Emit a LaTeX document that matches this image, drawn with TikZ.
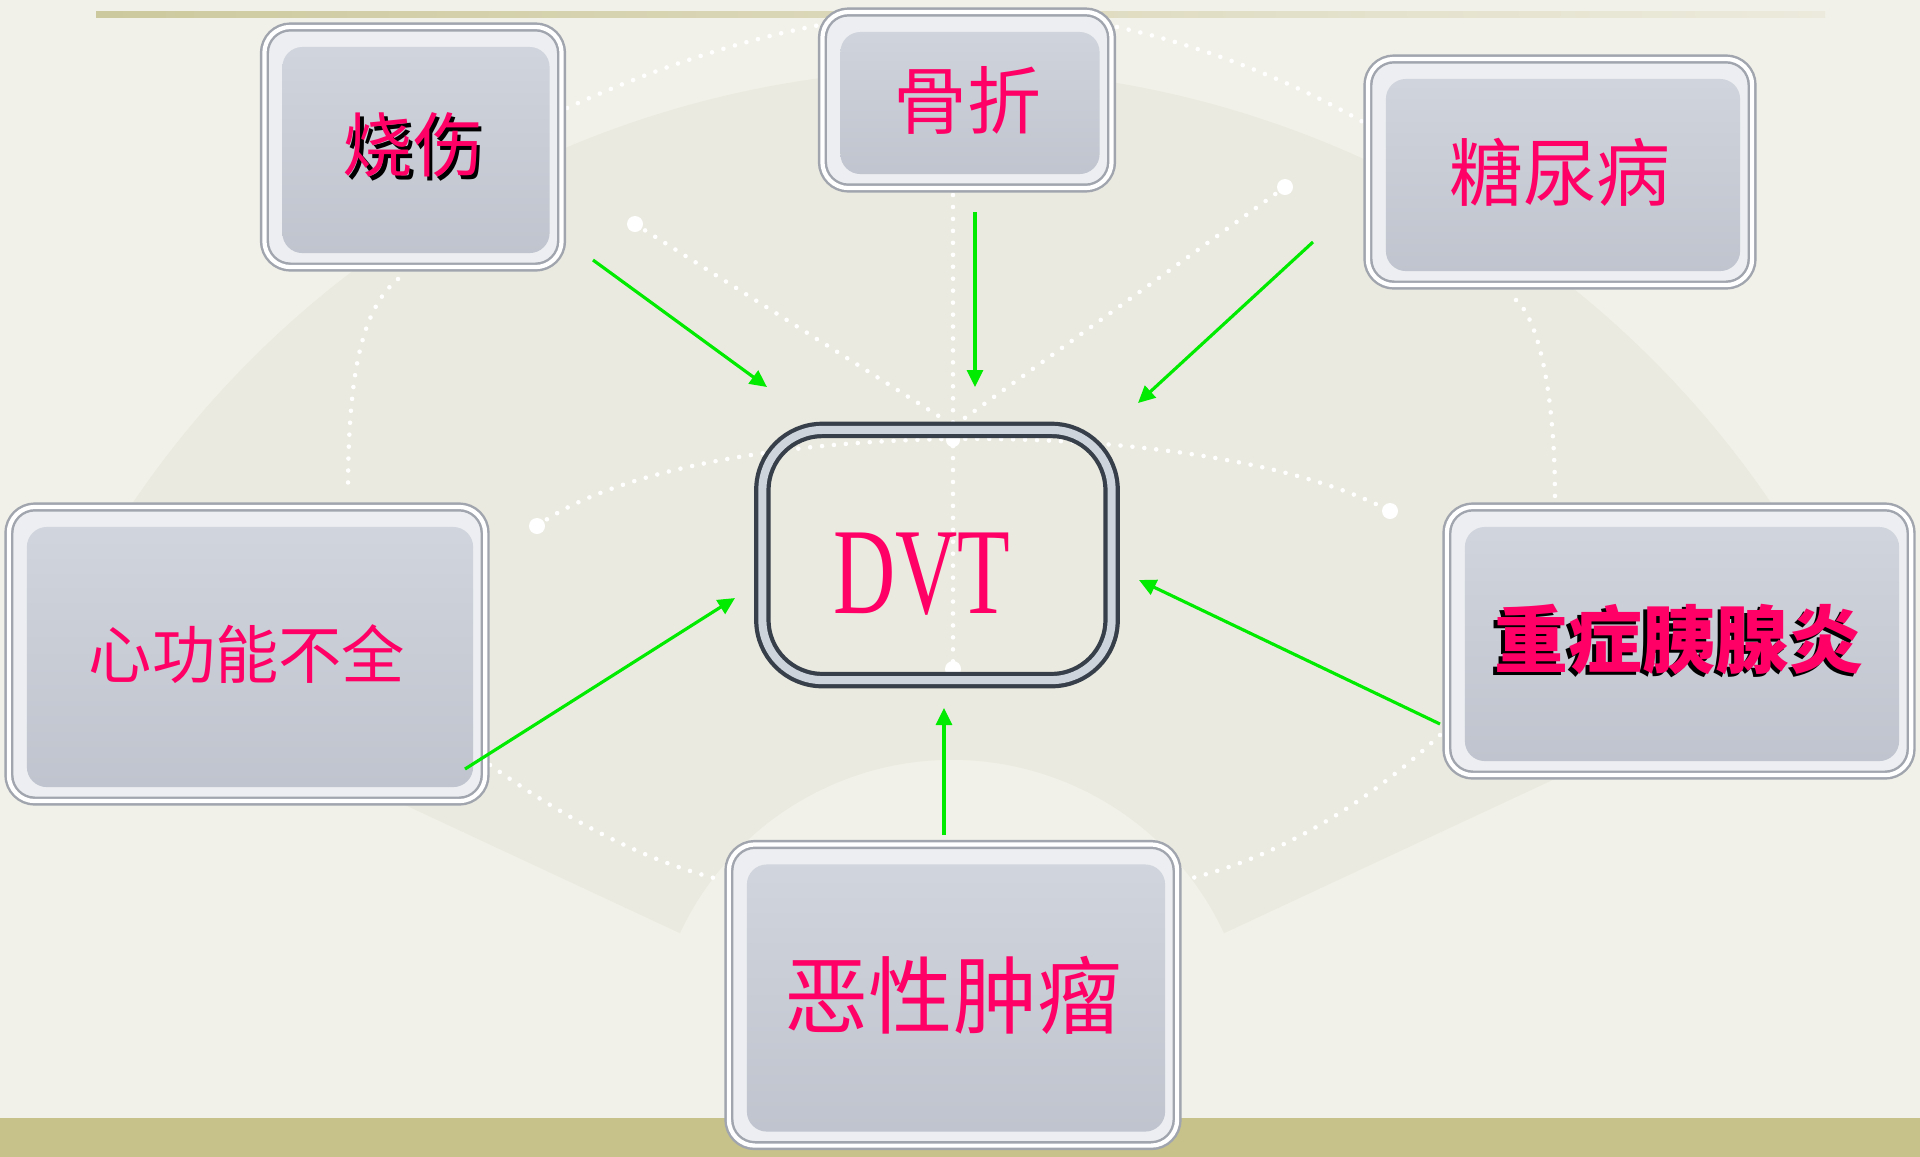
\documentclass[tikz,border=0pt]{standalone}
\usepackage{fontspec}
\newfontfamily\cjk{Noto Sans CJK SC}
\newfontfamily\dvtfont[FakeStretch=0.7]{Liberation Serif}
\usetikzlibrary{arrows.meta}

\definecolor{paper}{RGB}{242,241,233}
\definecolor{fangrey}{RGB}{235,234,224}
\definecolor{topolive}{RGB}{205,201,158}
\definecolor{bandolive}{RGB}{199,194,138}
\definecolor{olivelight}{RGB}{236,234,220}
\definecolor{rose}{RGB}{255,0,102}
\definecolor{arrowgreen}{RGB}{0,235,0}
\definecolor{glassrim}{RGB}{160,165,174}
\definecolor{glassedge}{RGB}{236,238,241}
\definecolor{glasstop}{RGB}{210,214,222}
\definecolor{glassbot}{RGB}{190,195,205}
\definecolor{ringdark}{RGB}{55,63,74}
\definecolor{ringlight}{RGB}{205,212,220}

% текст с тенью
\newcommand{\shadowed}[2]{\rlap{\hspace{#1}\raisebox{-0.035cm}{\textcolor{black}{#2}}}#2}

\tikzset{
	glass/.style={rounded corners=0.26cm, draw=glassrim, line width=0.7pt, double=white, double distance=1.2pt,
		fill=glassedge, inner sep=0pt, text=rose,
		path picture={\shade[top color=glasstop, bottom color=glassbot, rounded corners=0.2cm]
			([shift={(0.18cm,-0.2cm)}]path picture bounding box.north west) rectangle
			([shift={(-0.12cm,0.14cm)}]path picture bounding box.south east);}},
	ring/.style={rounded corners=0.6cm, draw=ringdark, line width=1.2pt, double=ringlight, double distance=2.3pt, inner sep=0pt},
	dotline/.style={white, line width=1.3pt, line cap=round, dash pattern=on 0pt off 3.4pt},
	bigdot/.style={white},
	flow/.style={draw=arrowgreen, line width=0.9pt, -{Triangle[length=0.17cm, width=0.16cm]}}
}

\begin{document}
\begin{tikzpicture}[x=0.01cm, y=-0.01cm]
	% фон
	\fill[paper] (0,0) rectangle (1920,1156);
	\useasboundingbox (0,0) rectangle (1920,1156);

	% веер
	\fill[fangrey] (952,1060) ++(25:3cm) arc[start angle=25, end angle=155, radius=3cm]
		-- ([shift={(155:9.9cm)}]952,1060) arc[start angle=155, end angle=25, radius=9.9cm] -- cycle;

	% пунктир
	\draw[dotline] (635,224) -- (945,420);
	\draw[dotline] (1285,187) -- (962,420);
	\draw[dotline] (953,195) -- (953,669);
	\draw[dotline] (537,526) .. controls (690,415) and (1200,410) .. (1390,511);
	\draw[dotline] (398,279) .. controls (360,310) and (348,380) .. (348,494);
	\draw[dotline] (1516,300) .. controls (1540,320) and (1555,400) .. (1555,498);
	\draw[dotline] (567,108) .. controls (650,70) and (740,40) .. (820,25);
	\draw[dotline] (1117,27) .. controls (1200,45) and (1290,80) .. (1363,122);
	\draw[dotline] (490,765) .. controls (560,815) and (640,860) .. (722,880);
	\draw[dotline] (1440,735) .. controls (1360,810) and (1270,860) .. (1184,880);
	\fill[bigdot] (635,224) circle (0.08cm);
	\fill[bigdot] (1285,187) circle (0.08cm);
	\fill[bigdot] (537,526) circle (0.08cm);
	\fill[bigdot] (1390,511) circle (0.08cm);
	\fill[bigdot] (953,669) circle (0.08cm);
	\fill[bigdot] (953,440) circle (0.07cm);

	% полосы
	\shade[left color=topolive, right color=olivelight] (96,11) rectangle (1825,17);
	\shade[left color=bandolive, middle color=olivelight, right color=bandolive] (0,1118) rectangle (1920,1156);

	% блоки
	\node[glass, minimum width=2.97cm, minimum height=2.40cm] (shao) at (413,147)
		{\cjk\fontsize{20pt}{20pt}\selectfont\shadowed{0.035cm}{烧伤}};
	\node[glass, minimum width=2.89cm, minimum height=1.76cm] (gu) at (967,100)
		{\cjk\fontsize{21pt}{21pt}\selectfont 骨折};
	\node[glass, minimum width=3.84cm, minimum height=2.26cm] (tang) at (1560,172)
		{\cjk\fontsize{21pt}{21pt}\selectfont 糖尿病};
	\node[glass, minimum width=4.76cm, minimum height=2.94cm] (xin) at (247,654)
		{\cjk\fontsize{18pt}{18pt}\selectfont 心功能不全};
	\node[glass, minimum width=4.64cm, minimum height=2.68cm] (yi) at (1679,641)
		{\cjk\bfseries\fontsize{21pt}{21pt}\selectfont\shadowed{-0.035cm}{重症胰腺炎}};
	\node[glass, minimum width=4.48cm, minimum height=3.01cm] (e) at (953,995)
		{\cjk\fontsize{24pt}{24pt}\selectfont 恶性肿瘤};

	% DVT
	\node[ring, minimum width=3.49cm, minimum height=2.50cm] (dvt) at (937,555) {};
	\node[text=rose, font={\dvtfont\fontsize{35pt}{35pt}\selectfont}] (dvtlabel) at (922,574) {DVT};

	% стрелки
	\coordinate (shaoTail) at (593,260);  \coordinate (dvtNW) at (767,387);
	\coordinate (guTail) at (975,212);    \coordinate (dvtN) at (975,387);
	\coordinate (tangTail) at (1313,242); \coordinate (dvtNE) at (1138,403);
	\coordinate (xinTail) at (465,769);   \coordinate (dvtW) at (735,598);
	\coordinate (yiTail) at (1440,724);   \coordinate (dvtE) at (1139,580);
	\coordinate (eTail) at (944,835);     \coordinate (dvtS) at (944,708);
	\draw[flow] (shaoTail) -- (dvtNW);
	\draw[flow] (guTail) -- (dvtN);
	\draw[flow] (tangTail) -- (dvtNE);
	\draw[flow] (xinTail) -- (dvtW);
	\draw[flow] (yiTail) -- (dvtE);
	\draw[flow] (eTail) -- (dvtS);
\end{tikzpicture}
\end{document}
